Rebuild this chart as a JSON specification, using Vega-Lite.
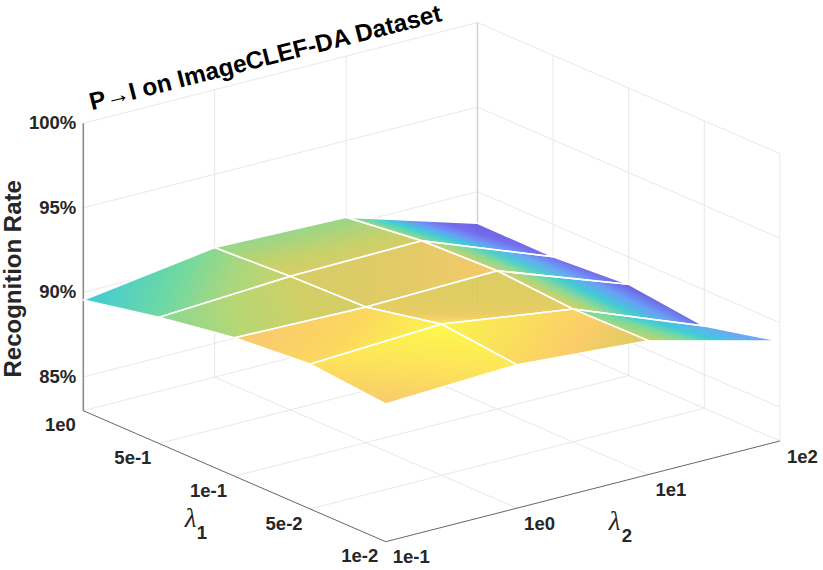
{
  "$schema": "https://vega.github.io/schema/vega-lite/v6.json",
  "width": 823,
  "height": 570,
  "padding": 0,
  "autosize": "none",
  "background": "white",
  "config": {"view": {"stroke": null}},
  "data": {"values": [
    {"g":"q00","o":0,"l1":0,"l2":0,"rate":89.55},{"g":"q00","o":1,"l1":1,"l2":0,"rate":90.46},{"g":"q00","o":2,"l1":1,"l2":1,"rate":90.90},{"g":"q00","o":3,"l1":0,"l2":1,"rate":90.66},
    {"g":"q10","o":0,"l1":1,"l2":0,"rate":90.46},{"g":"q10","o":1,"l1":2,"l2":0,"rate":91.19},{"g":"q10","o":2,"l1":2,"l2":1,"rate":91.02},{"g":"q10","o":3,"l1":1,"l2":1,"rate":90.90},
    {"g":"q20","o":0,"l1":2,"l2":0,"rate":91.19},{"g":"q20","o":1,"l1":3,"l2":0,"rate":91.57},{"g":"q20","o":2,"l1":3,"l2":1,"rate":91.95},{"g":"q20","o":3,"l1":2,"l2":1,"rate":91.02},
    {"g":"q30","o":0,"l1":3,"l2":0,"rate":91.57},{"g":"q30","o":1,"l1":4,"l2":0,"rate":91.15},{"g":"q30","o":2,"l1":4,"l2":1,"rate":91.48},{"g":"q30","o":3,"l1":3,"l2":1,"rate":91.95},
    {"g":"q01","o":0,"l1":0,"l2":1,"rate":90.66},{"g":"q01","o":1,"l1":1,"l2":1,"rate":90.90},{"g":"q01","o":2,"l1":1,"l2":2,"rate":91.02},{"g":"q01","o":3,"l1":0,"l2":2,"rate":90.47},
    {"g":"q11","o":0,"l1":1,"l2":1,"rate":90.90},{"g":"q11","o":1,"l1":2,"l2":1,"rate":91.02},{"g":"q11","o":2,"l1":2,"l2":2,"rate":91.18},{"g":"q11","o":3,"l1":1,"l2":2,"rate":91.02},
    {"g":"q21","o":0,"l1":2,"l2":1,"rate":91.02},{"g":"q21","o":1,"l1":3,"l2":1,"rate":91.95},{"g":"q21","o":2,"l1":3,"l2":2,"rate":90.86},{"g":"q21","o":3,"l1":2,"l2":2,"rate":91.18},
    {"g":"q31","o":0,"l1":3,"l2":1,"rate":91.95},{"g":"q31","o":1,"l1":4,"l2":1,"rate":91.48},{"g":"q31","o":2,"l1":4,"l2":2,"rate":90.92},{"g":"q31","o":3,"l1":3,"l2":2,"rate":90.86},
    {"g":"q02","o":0,"l1":0,"l2":2,"rate":90.47},{"g":"q02","o":1,"l1":1,"l2":2,"rate":91.02},{"g":"q02","o":2,"l1":1,"l2":3,"rate":88.09},{"g":"q02","o":3,"l1":0,"l2":3,"rate":88.13},
    {"g":"q12","o":0,"l1":1,"l2":2,"rate":91.02},{"g":"q12","o":1,"l1":2,"l2":2,"rate":91.18},{"g":"q12","o":2,"l1":2,"l2":3,"rate":88.39},{"g":"q12","o":3,"l1":1,"l2":3,"rate":88.09},
    {"g":"q22","o":0,"l1":2,"l2":2,"rate":91.18},{"g":"q22","o":1,"l1":3,"l2":2,"rate":90.86},{"g":"q22","o":2,"l1":3,"l2":3,"rate":87.86},{"g":"q22","o":3,"l1":2,"l2":3,"rate":88.39},
    {"g":"q32","o":0,"l1":3,"l2":2,"rate":90.86},{"g":"q32","o":1,"l1":4,"l2":2,"rate":90.92},{"g":"q32","o":2,"l1":4,"l2":3,"rate":88.91},{"g":"q32","o":3,"l1":3,"l2":3,"rate":87.86},

    {"k":"grid","g":"a85","l1":0,"l2":0,"rate":85},{"k":"grid","g":"a85","l1":0,"l2":3,"rate":85},
    {"k":"grid","g":"a90","l1":0,"l2":0,"rate":90},{"k":"grid","g":"a90","l1":0,"l2":3,"rate":90},
    {"k":"grid","g":"a95","l1":0,"l2":0,"rate":95},{"k":"grid","g":"a95","l1":0,"l2":3,"rate":95},
    {"k":"grid","g":"a100","l1":0,"l2":0,"rate":100},{"k":"grid","g":"a100","l1":0,"l2":3,"rate":100},
    {"k":"grid","g":"b85","l1":0,"l2":3,"rate":85},{"k":"grid","g":"b85","l1":4,"l2":3,"rate":85},
    {"k":"grid","g":"b90","l1":0,"l2":3,"rate":90},{"k":"grid","g":"b90","l1":4,"l2":3,"rate":90},
    {"k":"grid","g":"b95","l1":0,"l2":3,"rate":95},{"k":"grid","g":"b95","l1":4,"l2":3,"rate":95},
    {"k":"grid","g":"b100","l1":0,"l2":3,"rate":100},{"k":"grid","g":"b100","l1":4,"l2":3,"rate":100},
    {"k":"grid","g":"av1","l1":0,"l2":1,"rate":83},{"k":"grid","g":"av1","l1":0,"l2":1,"rate":100},
    {"k":"grid","g":"av2","l1":0,"l2":2,"rate":83},{"k":"grid","g":"av2","l1":0,"l2":2,"rate":100},
    {"k":"grid","g":"bv1","l1":1,"l2":3,"rate":83},{"k":"grid","g":"bv1","l1":1,"l2":3,"rate":100},
    {"k":"grid","g":"bv2","l1":2,"l2":3,"rate":83},{"k":"grid","g":"bv2","l1":2,"l2":3,"rate":100},
    {"k":"grid","g":"bv3","l1":3,"l2":3,"rate":83},{"k":"grid","g":"bv3","l1":3,"l2":3,"rate":100},
    {"k":"grid","g":"bv4","l1":4,"l2":3,"rate":83},{"k":"grid","g":"bv4","l1":4,"l2":3,"rate":100},
    {"k":"grid","g":"f10","l1":0,"l2":0,"rate":83},{"k":"grid","g":"f10","l1":0,"l2":3,"rate":83},
    {"k":"grid","g":"f11","l1":1,"l2":0,"rate":83},{"k":"grid","g":"f11","l1":1,"l2":3,"rate":83},
    {"k":"grid","g":"f12","l1":2,"l2":0,"rate":83},{"k":"grid","g":"f12","l1":2,"l2":3,"rate":83},
    {"k":"grid","g":"f13","l1":3,"l2":0,"rate":83},{"k":"grid","g":"f13","l1":3,"l2":3,"rate":83},
    {"k":"grid","g":"f21","l1":0,"l2":1,"rate":83},{"k":"grid","g":"f21","l1":4,"l2":1,"rate":83},
    {"k":"grid","g":"f22","l1":0,"l2":2,"rate":83},{"k":"grid","g":"f22","l1":4,"l2":2,"rate":83},
    {"k":"grid","g":"f23","l1":0,"l2":3,"rate":83},{"k":"grid","g":"f23","l1":4,"l2":3,"rate":83},

    {"k":"back","g":"back","l1":0,"l2":3,"rate":83},{"k":"back","g":"back","l1":0,"l2":3,"rate":100},
    {"k":"zaxis","g":"zaxis","l1":0,"l2":0,"rate":83},{"k":"zaxis","g":"zaxis","l1":0,"l2":0,"rate":100},
    {"k":"floor","g":"fl1","l1":0,"l2":0,"rate":83},{"k":"floor","g":"fl1","l1":4,"l2":0,"rate":83},
    {"k":"floor","g":"fl2","l1":4,"l2":0,"rate":83},{"k":"floor","g":"fl2","l1":4,"l2":3,"rate":83},

    {"k":"ztick","t":"85%","l1":0,"l2":0,"rate":85},
    {"k":"ztick","t":"90%","l1":0,"l2":0,"rate":90},
    {"k":"ztick","t":"95%","l1":0,"l2":0,"rate":95},
    {"k":"ztick","t":"100%","l1":0,"l2":0,"rate":100},
    {"k":"l1tick","t":"1e0","l1":0,"l2":0,"rate":83},
    {"k":"l1tick","t":"5e-1","l1":1,"l2":0,"rate":83},
    {"k":"l1tick","t":"1e-1","l1":2,"l2":0,"rate":83},
    {"k":"l1tick","t":"5e-2","l1":3,"l2":0,"rate":83},
    {"k":"l1tick","t":"1e-2","l1":4,"l2":0,"rate":83},
    {"k":"l2tick","t":"1e-1","l1":4,"l2":0,"rate":83},
    {"k":"l2tick","t":"1e0","l1":4,"l2":1,"rate":83},
    {"k":"l2tick","t":"1e1","l1":4,"l2":2,"rate":83},
    {"k":"l2tick","t":"1e2","l1":4,"l2":3,"rate":83},
    {"k":"title","t":"P→I on ImageCLEF-DA Dataset","l1":0,"l2":1.42,"rate":100},
    {"k":"ztitle","t":"Recognition Rate","l1":0,"l2":0,"rate":90.8},
    {"k":"l1name","t":"λ","l1":2,"l2":0,"rate":83},
    {"k":"l1sub","t":"1","l1":2,"l2":0,"rate":83},
    {"k":"l2name","t":"λ","l1":4,"l2":1.5,"rate":83},
    {"k":"l2sub","t":"2","l1":4,"l2":1.5,"rate":83}
  ]},
  "transform": [
    {"calculate": "83.3 + 75.6*datum.l1 + 131.4*datum.l2", "as": "sx"},
    {"calculate": "410.7 + 32.75*datum.l1 - 33.57*datum.l2 - (datum.rate-83)*16.906", "as": "sy"}
  ],
  "encoding": {
    "x": {"field": "sx", "type": "quantitative", "axis": null, "scale": {"domain": [0, 823], "nice": false, "zero": false}},
    "y": {"field": "sy", "type": "quantitative", "axis": null, "scale": {"domain": [570, 0], "nice": false, "zero": false}}
  },
  "layer": [
    {"transform": [{"filter": "datum.k=='grid'"}], "mark": {"type": "line", "stroke": "#e8e8e8", "strokeWidth": 1}, "encoding": {"detail": {"field": "g"}}},
    {"transform": [{"filter": "datum.k=='back'"}], "mark": {"type": "line", "stroke": "#cfcfcf", "strokeWidth": 1.4}, "encoding": {"detail": {"field": "g"}}},
    {"transform": [{"filter": "datum.k=='zaxis'"}], "mark": {"type": "line", "stroke": "#8c8c8c", "strokeWidth": 1.6}, "encoding": {"detail": {"field": "g"}}},
    {"transform": [{"filter": "datum.k=='floor'"}], "mark": {"type": "line", "stroke": "#666666", "strokeWidth": 1}, "encoding": {"detail": {"field": "g"}}},

    {"transform": [{"filter": "datum.g=='q00'"}], "mark": {"type": "line", "interpolate": "linear-closed", "stroke": null, "fillOpacity": 0.92, "fill": {"gradient": "linear", "x1": 0, "y1": 0.75, "x2": 0.94, "y2": 0.87, "stops": [{"offset": 0, "color": "#2fc6d6"}, {"offset": 0.41, "color": "#60d59c"}, {"offset": 0.7, "color": "#9fd474"}, {"offset": 1, "color": "#c6cf5c"}]}}, "encoding": {"order": {"field": "o", "type": "quantitative"}}},
    {"transform": [{"filter": "datum.g=='q10'"}], "mark": {"type": "line", "interpolate": "linear-closed", "stroke": null, "fillOpacity": 0.92, "fill": {"gradient": "linear", "x1": 0, "y1": 0.66, "x2": 0.75, "y2": 0.6, "stops": [{"offset": 0, "color": "#7dd58c"}, {"offset": 0.5, "color": "#b0d468"}, {"offset": 1, "color": "#cfca58"}]}}, "encoding": {"order": {"field": "o", "type": "quantitative"}}},
    {"transform": [{"filter": "datum.g=='q20'"}], "mark": {"type": "line", "interpolate": "linear-closed", "stroke": null, "fillOpacity": 0.92, "fill": {"gradient": "linear", "x1": 0.2, "y1": 0.2, "x2": 1, "y2": 0.4, "stops": [{"offset": 0, "color": "#f9c660"}, {"offset": 0.5, "color": "#fbd550"}, {"offset": 1, "color": "#faf53f"}]}}, "encoding": {"order": {"field": "o", "type": "quantitative"}}},
    {"transform": [{"filter": "datum.g=='q30'"}], "mark": {"type": "line", "interpolate": "linear-closed", "stroke": null, "fillOpacity": 0.92, "fill": {"gradient": "linear", "x1": 0.64, "y1": 0, "x2": 0.4, "y2": 1, "stops": [{"offset": 0, "color": "#fbf83c"}, {"offset": 0.5, "color": "#fde24c"}, {"offset": 1, "color": "#f8c660"}]}}, "encoding": {"order": {"field": "o", "type": "quantitative"}}},
    {"transform": [{"filter": "datum.g=='q01'"}], "mark": {"type": "line", "interpolate": "linear-closed", "stroke": null, "fillOpacity": 0.92, "fill": {"gradient": "linear", "x1": 0.3, "y1": 0.27, "x2": 0.78, "y2": 0.84, "stops": [{"offset": 0, "color": "#8fd37f"}, {"offset": 0.5, "color": "#c2cd5e"}, {"offset": 1, "color": "#e0c75a"}]}}, "encoding": {"order": {"field": "o", "type": "quantitative"}}},
    {"transform": [{"filter": "datum.g=='q11'"}], "mark": {"type": "line", "interpolate": "linear-closed", "stroke": null, "fillOpacity": 0.92, "fill": {"gradient": "linear", "x1": 0, "y1": 0.5, "x2": 1, "y2": 0.5, "stops": [{"offset": 0, "color": "#cfc95a"}, {"offset": 0.6, "color": "#e2c65a"}, {"offset": 1, "color": "#f6c45e"}]}}, "encoding": {"order": {"field": "o", "type": "quantitative"}}},
    {"transform": [{"filter": "datum.g=='q21'"}], "mark": {"type": "line", "interpolate": "linear-closed", "stroke": null, "fillOpacity": 0.92, "fill": {"gradient": "linear", "x1": 0.5, "y1": 0.45, "x2": 0.5, "y2": 1, "stops": [{"offset": 0, "color": "#dcc956"}, {"offset": 0.65, "color": "#e6c957"}, {"offset": 0.8, "color": "#f6cc5a"}, {"offset": 1, "color": "#f9e94a"}]}}, "encoding": {"order": {"field": "o", "type": "quantitative"}}},
    {"transform": [{"filter": "datum.g=='q31'"}], "mark": {"type": "line", "interpolate": "linear-closed", "stroke": null, "fillOpacity": 0.92, "fill": {"gradient": "linear", "x1": 0, "y1": 0.4, "x2": 1, "y2": 0.6, "stops": [{"offset": 0, "color": "#f9f240"}, {"offset": 0.35, "color": "#f9dc4e"}, {"offset": 0.65, "color": "#fbc95c"}, {"offset": 1, "color": "#d6c752"}]}}, "encoding": {"order": {"field": "o", "type": "quantitative"}}},
    {"transform": [{"filter": "datum.g=='q02'"}], "mark": {"type": "line", "interpolate": "linear-closed", "stroke": null, "fillOpacity": 0.92, "fill": {"gradient": "linear", "x1": 0, "y1": 0, "x2": 0.36, "y2": -0.225, "stops": [{"offset": 0, "color": "#a5d26e"}, {"offset": 0.12, "color": "#60d4a0"}, {"offset": 0.3, "color": "#30c6d6"}, {"offset": 0.5, "color": "#5e92f6"}, {"offset": 0.75, "color": "#6a60ea"}, {"offset": 1, "color": "#6456e0"}]}}, "encoding": {"order": {"field": "o", "type": "quantitative"}}},
    {"transform": [{"filter": "datum.g=='q12'"}], "mark": {"type": "line", "interpolate": "linear-closed", "stroke": null, "fillOpacity": 0.92, "fill": {"gradient": "linear", "x1": 0, "y1": 0, "x2": 0.35, "y2": -0.18, "stops": [{"offset": 0, "color": "#c9cc5c"}, {"offset": 0.25, "color": "#7fd68c"}, {"offset": 0.45, "color": "#3fcac8"}, {"offset": 0.7, "color": "#5aa0f4"}, {"offset": 1, "color": "#6a62ea"}]}}, "encoding": {"order": {"field": "o", "type": "quantitative"}}},
    {"transform": [{"filter": "datum.g=='q22'"}], "mark": {"type": "line", "interpolate": "linear-closed", "stroke": null, "fillOpacity": 0.92, "fill": {"gradient": "linear", "x1": 0, "y1": 0, "x2": 0.38, "y2": -0.21, "stops": [{"offset": 0, "color": "#d0cb58"}, {"offset": 0.2, "color": "#8ed684"}, {"offset": 0.45, "color": "#30c8d0"}, {"offset": 0.7, "color": "#5e96f6"}, {"offset": 1, "color": "#6050de"}]}}, "encoding": {"order": {"field": "o", "type": "quantitative"}}},
    {"transform": [{"filter": "datum.g=='q32'"}], "mark": {"type": "line", "interpolate": "linear-closed", "stroke": null, "fillOpacity": 0.92, "fill": {"gradient": "linear", "x1": 0.357, "y1": 1, "x2": 0.855, "y2": 0.731, "stops": [{"offset": 0, "color": "#d0c752"}, {"offset": 0.15, "color": "#a5d26e"}, {"offset": 0.35, "color": "#6fd596"}, {"offset": 0.53, "color": "#30c8d4"}, {"offset": 0.8, "color": "#5aa5f2"}, {"offset": 1, "color": "#6a9cf5"}]}}, "encoding": {"order": {"field": "o", "type": "quantitative"}}},

    {"transform": [{"filter": "isValid(datum.o)"}], "mark": {"type": "line", "interpolate": "linear-closed", "stroke": "white", "strokeWidth": 1.5}, "encoding": {"detail": {"field": "g"}, "order": {"field": "o", "type": "quantitative"}}},

    {"transform": [{"filter": "datum.k=='ztick'"}], "mark": {"type": "text", "font": "Liberation Sans", "fontWeight": "bold", "fontSize": 18.5, "color": "#262626", "align": "right", "baseline": "middle", "dx": -7}, "encoding": {"text": {"field": "t"}}},
    {"transform": [{"filter": "datum.k=='l1tick'"}], "mark": {"type": "text", "font": "Liberation Sans", "fontWeight": "bold", "fontSize": 18.5, "color": "#262626", "align": "right", "baseline": "middle", "dx": -7.5, "dy": 14.7}, "encoding": {"text": {"field": "t"}}},
    {"transform": [{"filter": "datum.k=='l2tick'"}], "mark": {"type": "text", "font": "Liberation Sans", "fontWeight": "bold", "fontSize": 18.5, "color": "#262626", "align": "left", "baseline": "middle", "dx": 7, "dy": 15.6}, "encoding": {"text": {"field": "t"}}},
    {"transform": [{"filter": "datum.k=='title'"}], "mark": {"type": "text", "font": "Liberation Sans", "fontWeight": "bold", "fontSize": 24.4, "color": "black", "align": "center", "baseline": "middle", "angle": 345.7, "dy": -17.5}, "encoding": {"text": {"field": "t"}}},
    {"transform": [{"filter": "datum.k=='ztitle'"}], "mark": {"type": "text", "font": "Liberation Sans", "fontWeight": "bold", "fontSize": 24, "color": "#262626", "align": "center", "baseline": "middle", "angle": 270, "dy": -69}, "encoding": {"text": {"field": "t"}}},
    {"transform": [{"filter": "datum.k=='l1name'"}], "mark": {"type": "text", "font": "Liberation Serif", "fontStyle": "italic", "fontSize": 27, "color": "#262626", "align": "center", "baseline": "middle", "dx": -44, "dy": 43}, "encoding": {"text": {"field": "t"}}},
    {"transform": [{"filter": "datum.k=='l1sub'"}], "mark": {"type": "text", "font": "Liberation Sans", "fontWeight": "bold", "fontSize": 18.5, "color": "#262626", "align": "center", "baseline": "middle", "dx": -32.5, "dy": 57}, "encoding": {"text": {"field": "t"}}},
    {"transform": [{"filter": "datum.k=='l2name'"}], "mark": {"type": "text", "font": "Liberation Serif", "fontStyle": "italic", "fontSize": 27, "color": "#262626", "align": "center", "baseline": "middle", "dx": 31.7, "dy": 31}, "encoding": {"text": {"field": "t"}}},
    {"transform": [{"filter": "datum.k=='l2sub'"}], "mark": {"type": "text", "font": "Liberation Sans", "fontWeight": "bold", "fontSize": 18.5, "color": "#262626", "align": "center", "baseline": "middle", "dx": 44, "dy": 45}, "encoding": {"text": {"field": "t"}}}
  ]
}
